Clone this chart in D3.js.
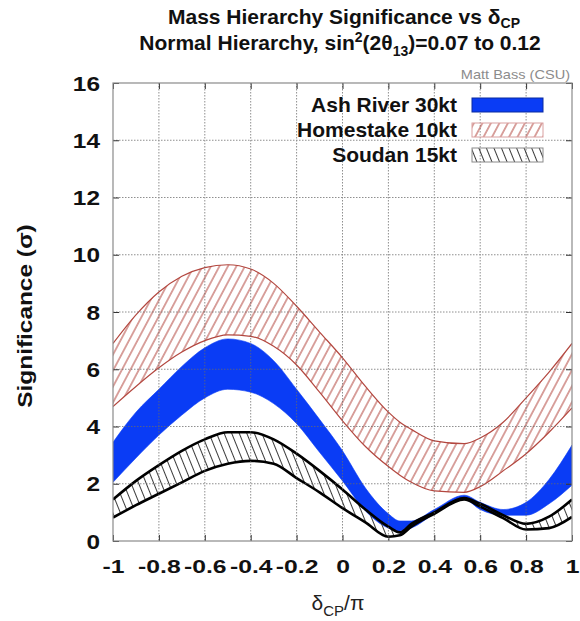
<!DOCTYPE html>
<html>
<head>
<meta charset="utf-8">
<script src="https://cdn.jsdelivr.net/npm/d3@7"></script>
<style>
    body { margin: 0; background: #fff; }
    svg { display: block; font-family: "Liberation Sans", Arial, Helvetica, sans-serif; }
</style>
</head>
<body>
<svg id="chart" width="580" height="621"></svg>
<script>
const margins = {top: 83, right: 8, bottom: 80, left: 113, width: 580, height: 621};

// delta_CP / pi sample points
const dcp = [-1, -0.9, -0.8, -0.7, -0.6, -0.5, -0.4, -0.3, -0.2, -0.1, 0, 0.1, 0.2, 0.25, 0.3, 0.4, 0.53, 0.6, 0.7, 0.8, 0.9, 1];

const ashUpper = [3.45, 4.5, 5.3, 6.1, 6.75, 7.06, 6.9, 6.3, 5.3, 4.25, 3.15, 1.85, 0.95, 0.7, 0.7, 1.1, 1.6, 1.35, 1.1, 1.35, 2.15, 3.35];
const ashLower = [2.05, 2.9, 3.7, 4.4, 5.0, 5.3, 5.2, 4.8, 4.1, 3.1, 2.1, 1.05, 0.45, 0.35, 0.45, 0.95, 1.45, 1.1, 0.9, 0.9, 1.3, 1.95];

const homestakeUpper = [6.9, 7.9, 8.7, 9.25, 9.55, 9.65, 9.5, 9.0, 8.2, 7.3, 6.4, 5.4, 4.5, 4.15, 3.9, 3.5, 3.4, 3.6, 4.15, 5.0, 5.9, 6.9];
const homestakeLower = [4.7, 5.4, 6.05, 6.6, 7.0, 7.2, 7.15, 6.8, 6.15, 5.2, 4.2, 3.3, 2.6, 2.3, 2.05, 1.75, 1.7, 1.9, 2.45, 3.05, 3.8, 4.65];

const soudanUpper = [1.45, 2.1, 2.65, 3.15, 3.55, 3.8, 3.8, 3.55, 3.05, 2.45, 1.8, 1.1, 0.5, 0.3, 0.6, 1.0, 1.5, 1.3, 0.9, 0.6, 0.85, 1.45];
const soudanLower = [0.82, 1.25, 1.65, 2.05, 2.45, 2.7, 2.8, 2.7, 2.2, 1.7, 1.15, 0.65, 0.15, 0.2, 0.5, 0.95, 1.45, 1.2, 0.8, 0.4, 0.45, 0.84];

const xTicks = [-1, -0.8, -0.6, -0.4, -0.2, 0, 0.2, 0.4, 0.6, 0.8, 1];
const xTickLabels = ["-1", "-0.8", "-0.6", "-0.4", "-0.2", "0", "0.2", "0.4", "0.6", "0.8", "1"];
const yTicks = [0, 2, 4, 6, 8, 10, 12, 14, 16];

const legendLabels = ["Ash River 30kt", "Homestake 10kt", "Soudan 15kt"];
const titleLine1 = ["Mass Hierarchy Significance vs δ", "CP"];
const titleLine2 = ["Normal Hierarchy, sin", "2", "(2θ", "13", ")=0.07 to 0.12"];
const credit = "Matt Bass (CSU)";

const svg = d3.select("#chart");

const xScale = d3.scaleLinear()
    .domain([-1, 1])
    .range([margins.left, margins.width - margins.right]);
const yScale = d3.scaleLinear()
    .domain([0, 16])
    .range([margins.height - margins.bottom, margins.top]);

const plotW = xScale.range()[1] - xScale.range()[0];
const plotH = yScale.range()[0] - yScale.range()[1];

// stretch text horizontally a bit, the original font runs wider than Arial
function stretch(sel, k) {
    sel.each(function () {
        const w = this.getComputedTextLength();
        d3.select(this).attr("textLength", w * k).attr("lengthAdjust", "spacingAndGlyphs");
    });
}

const defs = svg.append("defs");
defs.append("clipPath").attr("id", "plotClip")
    .append("rect")
    .attr("x", margins.left).attr("y", margins.top)
    .attr("width", plotW).attr("height", plotH);

const redHatch = defs.append("pattern")
    .attr("id", "hatchRed")
    .attr("patternUnits", "userSpaceOnUse")
    .attr("width", 7.5).attr("height", 10)
    .attr("patternTransform", "rotate(28)");
redHatch.append("line")
    .attr("x1", 3.75).attr("y1", 0).attr("x2", 3.75).attr("y2", 10)
    .attr("stroke", "#b3473f").attr("stroke-width", 1);

const blackHatch = defs.append("pattern")
    .attr("id", "hatchBlack")
    .attr("patternUnits", "userSpaceOnUse")
    .attr("width", 7).attr("height", 10)
    .attr("patternTransform", "rotate(-22)");
blackHatch.append("line")
    .attr("x1", 3.5).attr("y1", 0).attr("x2", 3.5).attr("y2", 10)
    .attr("stroke", "#3a3a3a").attr("stroke-width", 1);

function bandData(upper, lower) {
    return dcp.map((x, i) => ({x: x, hi: upper[i], lo: lower[i]}));
}

const area = d3.area()
    .x(d => xScale(d.x))
    .y0(d => yScale(d.lo))
    .y1(d => yScale(d.hi))
    .curve(d3.curveMonotoneX);
const lineHi = d3.line().x(d => xScale(d.x)).y(d => yScale(d.hi)).curve(d3.curveMonotoneX);
const lineLo = d3.line().x(d => xScale(d.x)).y(d => yScale(d.lo)).curve(d3.curveMonotoneX);

const plot = svg.append("g").attr("clip-path", "url(#plotClip)");

// Ash River - solid blue
const ash = bandData(ashUpper, ashLower);
plot.append("path").datum(ash)
    .attr("d", area)
    .attr("fill", "#0a3cf5")
    .attr("stroke", "#0a3cf5")
    .attr("stroke-width", 0.6);

// Homestake - red hatch
const home = bandData(homestakeUpper, homestakeLower);
plot.append("path").datum(home)
    .attr("d", area)
    .attr("fill", "url(#hatchRed)");
[lineHi, lineLo].forEach(l => {
    plot.append("path").datum(home)
        .attr("d", l)
        .attr("fill", "none")
        .attr("stroke", "#b3473f")
        .attr("stroke-width", 1.2);
});

// Soudan - black hatch
const soudan = bandData(soudanUpper, soudanLower);
plot.append("path").datum(soudan)
    .attr("d", area)
    .attr("fill", "url(#hatchBlack)");
[lineHi, lineLo].forEach(l => {
    plot.append("path").datum(soudan)
        .attr("d", l)
        .attr("fill", "none")
        .attr("stroke", "#000")
        .attr("stroke-width", 2.6)
        .attr("stroke-linejoin", "round");
});

// dotted grid, drawn above the bands like the original
const grid = svg.append("g").attr("stroke", "#6a6a6a").attr("stroke-width", 1)
    .attr("stroke-dasharray", "1.5,1.5").attr("opacity", 0.75);
grid.selectAll(".gx")
    .data(xTicks.slice(1, -1))
    .enter()
    .append("line")
    .attr("x1", d => xScale(d)).attr("x2", d => xScale(d))
    .attr("y1", yScale.range()[1]).attr("y2", yScale.range()[0]);
grid.selectAll(".gy")
    .data(yTicks.slice(1, -1))
    .enter()
    .append("line")
    .attr("y1", d => yScale(d)).attr("y2", d => yScale(d))
    .attr("x1", xScale.range()[0]).attr("x2", xScale.range()[1]);

// axes with inward ticks, mirrored on top and right
const xAxis = svg.append("g")
    .attr("transform", `translate(0,${yScale.range()[0]})`)
    .call(d3.axisBottom(xScale).tickValues(xTicks).tickSizeInner(-6).tickSizeOuter(0).tickPadding(19)
        .tickFormat((d, i) => xTickLabels[i]));
const xAxisTop = svg.append("g")
    .attr("transform", `translate(0,${yScale.range()[1]})`)
    .call(d3.axisTop(xScale).tickValues(xTicks).tickSizeInner(-6).tickSizeOuter(0).tickFormat(""));
const yAxis = svg.append("g")
    .attr("transform", `translate(${xScale.range()[0]},0)`)
    .call(d3.axisLeft(yScale).tickValues(yTicks).tickSizeInner(-6).tickSizeOuter(0).tickPadding(13));
const yAxisRight = svg.append("g")
    .attr("transform", `translate(${xScale.range()[1]},0)`)
    .call(d3.axisRight(yScale).tickValues(yTicks).tickSizeInner(-6).tickSizeOuter(0).tickFormat(""));

[xAxis, xAxisTop, yAxis, yAxisRight].forEach(a => {
    a.select(".domain").remove();
    a.selectAll(".tick line").attr("stroke", "#333").attr("stroke-width", 1);
});

xAxis.selectAll("text")
    .attr("fill", "#111")
    .style("font-size", "19px")
    .style("font-weight", "bold")
    .style("font-family", "'Liberation Sans', Arial, sans-serif");
stretch(xAxis.selectAll("text"), 1.3);

yAxis.selectAll("text")
    .attr("fill", "#111")
    .attr("dy", "0.36em")
    .style("font-size", "20px")
    .style("font-weight", "bold")
    .style("font-family", "'Liberation Sans', Arial, sans-serif");
stretch(yAxis.selectAll("text"), 1.22);

// frame
svg.append("rect")
    .attr("x", xScale.range()[0]).attr("y", yScale.range()[1])
    .attr("width", plotW).attr("height", plotH)
    .attr("fill", "none")
    .attr("stroke", "#8a8a8a")
    .attr("stroke-width", 1.2);

// legend
const swatchFills = ["#0a3cf5", "url(#hatchRed)", "url(#hatchBlack)"];
const swatchStrokes = ["#0a2aa0", "#d9a0a0", "#8a8a8a"];
const legend = svg.append("g");
legendLabels.forEach((label, i) => {
    const y = 105 + i * 25;
    legend.append("text")
        .attr("x", 457).attr("y", y + 7)
        .attr("text-anchor", "end")
        .attr("fill", "#111")
        .style("font-size", "21px")
        .style("font-weight", "bold")
        .text(label);
    legend.append("rect")
        .attr("x", 472).attr("y", y - 7)
        .attr("width", 71).attr("height", 14)
        .attr("fill", swatchFills[i])
        .attr("stroke", swatchStrokes[i])
        .attr("stroke-width", 1);
});

// titles
const t1 = svg.append("text")
    .attr("x", 344).attr("y", 24)
    .attr("text-anchor", "middle")
    .attr("fill", "#111")
    .style("font-size", "21px")
    .style("font-weight", "bold");
t1.append("tspan").text(titleLine1[0]);
t1.append("tspan").attr("dy", 4).style("font-size", "14px").text(titleLine1[1]);

const t2 = svg.append("text")
    .attr("x", 340).attr("y", 50)
    .attr("text-anchor", "middle")
    .attr("fill", "#111")
    .style("font-size", "21px")
    .style("font-weight", "bold");
t2.append("tspan").text(titleLine2[0]);
t2.append("tspan").attr("dy", -8).style("font-size", "14px").text(titleLine2[1]);
t2.append("tspan").attr("dy", 8).text(titleLine2[2]);
t2.append("tspan").attr("dy", 6).style("font-size", "14px").text(titleLine2[3]);
t2.append("tspan").attr("dy", -6).text(titleLine2[4]);

svg.append("text")
    .attr("x", 570).attr("y", 79)
    .attr("text-anchor", "end")
    .attr("fill", "#8c8c8c")
    .style("font-size", "13px")
    .text(credit)
    .call(s => stretch(s, 1.12));

// axis titles
const yl = svg.append("text")
    .attr("transform", "translate(32,316) rotate(-90)")
    .attr("text-anchor", "middle")
    .attr("fill", "#111")
    .style("font-size", "20px")
    .style("font-weight", "bold")
    .text("Significance (σ)");
stretch(yl, 1.22);

const xl = svg.append("text")
    .attr("x", 338).attr("y", 610)
    .attr("text-anchor", "middle")
    .attr("fill", "#222")
    .style("font-size", "21px");
xl.append("tspan").text("δ");
xl.append("tspan").attr("dy", 6).style("font-size", "15px").text("CP");
xl.append("tspan").attr("dy", -6).text("/π");
</script>
</body>
</html>
